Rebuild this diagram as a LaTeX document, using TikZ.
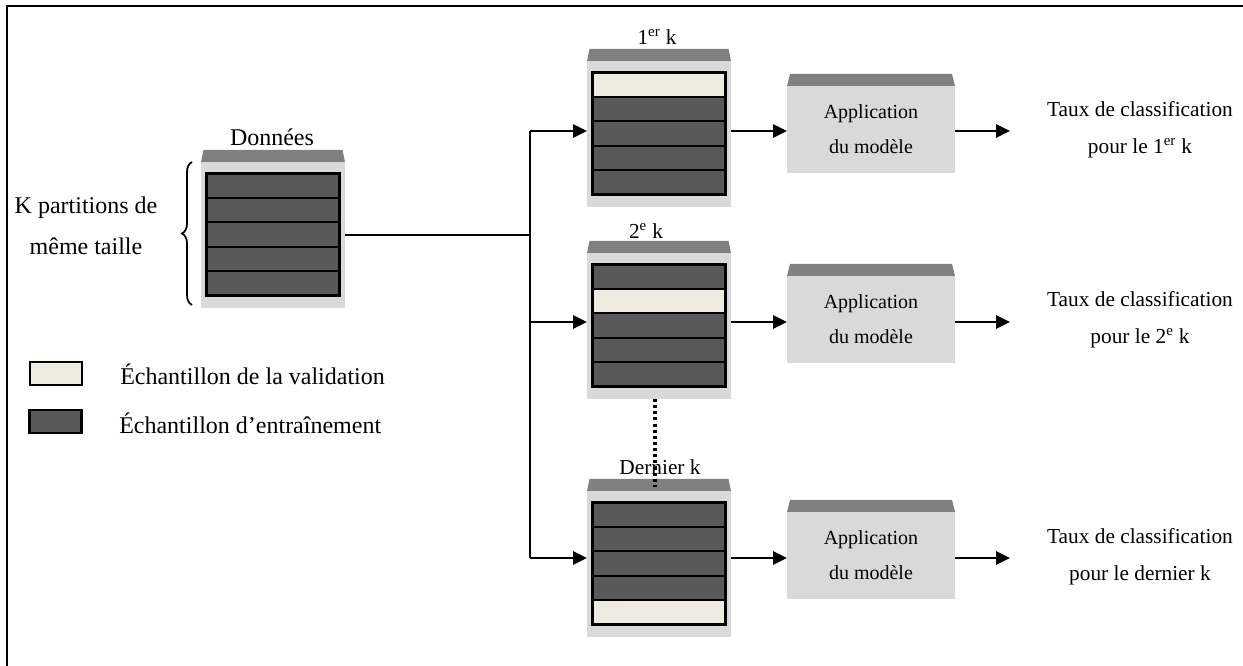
\documentclass[tikz,border=0pt]{standalone}
\usepackage{fontspec}
\setmainfont{Liberation Serif}
\usetikzlibrary{arrows.meta,calc,decorations.pathreplacing}
\definecolor{boxgray}{HTML}{D9D9D9}
\definecolor{capgray}{HTML}{808080}
\definecolor{darkstripe}{HTML}{595959}
\definecolor{valstripe}{HTML}{EDEBE0}
\newcommand\kstack[4]{%
  \node[outer, anchor=north] (#1) at (#2,#3) {};
  \fill[capgray] (#1.north west) -- ($(#1.north west)+(2.5,-12)$) -- ($(#1.north east)+(-2.5,-12)$) -- (#1.north east) -- cycle;
  \foreach \i in {1,...,5}{%
    \ifnum\i=#4 \def\fc{valstripe}\else\def\fc{darkstripe}\fi
    \node[stripe, fill=\fc, anchor=north] (#1-\i) at ($(#1.north)+(0,11.5+24.4*\i-24.4)$) {};
  }%
}
\newcommand\appstack[3]{%
  \node[appbox] (#1) at (#2,#3) {Application\\du modèle};
  \fill[capgray] (#1.north west) -- ($(#1.north west)+(3,-12)$) -- ($(#1.north east)+(-3,-12)$) -- (#1.north east) -- cycle;
}
\begin{document}
\begin{tikzpicture}[x=0.75pt,y=-0.75pt,
  outer/.style={fill=boxgray, draw=none, minimum width=108pt, minimum height=109.5pt, inner sep=0pt, outer sep=0pt},
  appbox/.style={fill=boxgray, minimum width=126pt, minimum height=65.25pt, inner sep=0pt, outer sep=0pt, align=center, font=\fontsize{15}{26.25}\selectfont},
  stripe/.style={draw=black, line width=1.7pt, minimum width=99.75pt, minimum height=18.3pt, inner sep=0pt, outer sep=0pt},
  conn/.style={line width=1.3pt},
  arr/.style={conn, -{Triangle[length=10.5pt,width=10pt]}},
  biglbl/.style={font=\fontsize{18}{30.75}\selectfont, align=center, inner sep=0pt},
  lbl/.style={font=\fontsize{16}{27.75}\selectfont, align=center, inner sep=0pt},
  legbox/.style={draw=black, line width=1.8pt, inner sep=0pt, minimum width=39pt, minimum height=17.5pt},
  dots/.style={line width=2.6pt, dash pattern=on 2.3pt off 2.3pt}
]
\useasboundingbox (0,0) rectangle (1243,666);
% frame
\draw[line width=1.6pt] (7,666) -- (7,6) -- (1243,6);

% data stack
\kstack{d}{273}{162}{0}
\node[biglbl] (ld) at (272,137) {Données};
\draw[decorate, decoration={brace, amplitude=7.5pt}, line width=1.3pt] (192,305) -- (192,162);
\node[biglbl] (kp) at (86,226) {K partitions de\\même taille};

% fold stacks
\kstack{b1}{659}{61}{1}
\kstack{b2}{659}{253}{2}
\kstack{b3}{659}{491}{5}
\node[lbl] (l1) at (657,37) {1\textsuperscript{er} k};
\node[lbl] (l2) at (646,231) {2\textsuperscript{e} k};
\node[lbl] (l3) at (660,467) {Dernier k};

% application boxes
\appstack{a1}{871}{129.5}
\appstack{a2}{871}{319.5}
\appstack{a3}{871}{555.5}

% results
\node[lbl] (r1) at (1140,130) {Taux de classification\\pour le 1\textsuperscript{er} k};
\node[lbl] (r2) at (1140,320) {Taux de classification\\pour le 2\textsuperscript{e} k};
\node[lbl] (r3) at (1140,557) {Taux de classification\\pour le dernier k};

% connectors
\coordinate (j1) at (530,131);
\coordinate (j2) at (530,322);
\coordinate (j3) at (530,558);
\coordinate (o1) at (1010,131);
\coordinate (o2) at (1010,322);
\coordinate (o3) at (1010,558);
\draw[conn] (d.east) -- (d.east -| j1);
\draw[conn] (j1) -- (j3);
\draw[arr] (j1) -- (j1 -| b1.west);
\draw[arr] (j2) -- (j2 -| b2.west);
\draw[arr] (j3) -- (j3 -| b3.west);
\draw[arr] (j1 -| b1.east) -- (j1 -| a1.west);
\draw[arr] (j2 -| b2.east) -- (j2 -| a2.west);
\draw[arr] (j3 -| b3.east) -- (j3 -| a3.west);
\draw[arr] (j1 -| a1.east) -- (o1);
\draw[arr] (j2 -| a2.east) -- (o2);
\draw[arr] (j3 -| a3.east) -- (o3);
\draw[dots] ($(b2.south)+(-4,0)$) -- ($(b3.north)+(-4,-4)$);

% legend
\node[legbox, fill=valstripe] (lv) at (56,373.5) {};
\node[legbox, fill=darkstripe] (lt) at (55.5,421.5) {};
\node[biglbl, anchor=west] (tv) at (120,374) {Échantillon de la validation};
\node[biglbl, anchor=west] (tt) at (119,423) {Échantillon d’entraînement};
\end{tikzpicture}
\end{document}
